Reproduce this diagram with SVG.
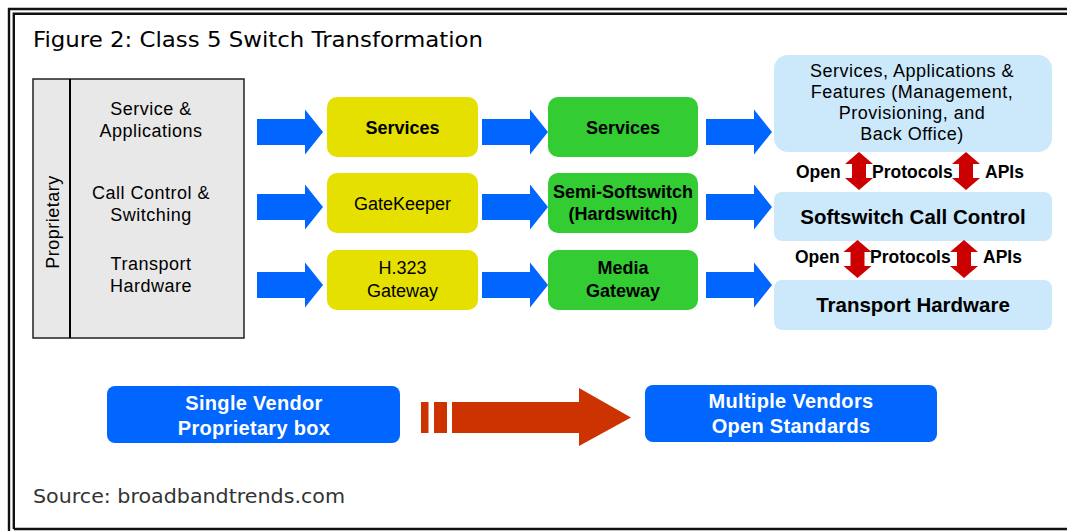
<svg xmlns="http://www.w3.org/2000/svg" width="1067" height="531" viewBox="0 0 1067 531">
  <style>
    .lbl { font-family: "Liberation Sans", Arial, sans-serif; fill: #000; text-anchor: middle; }
    .gray-lbl { font-size: 18px; letter-spacing: 0.5px; }
    .box-lbl { font-size: 18px; }
    .b { font-weight: bold; }
    .proto { font-family: "Liberation Sans", Arial, sans-serif; font-size: 17.5px; font-weight: bold; fill: #000; }
    .vendor { font-family: "Liberation Sans", Arial, sans-serif; font-size: 20px; font-weight: bold; fill: #fff; text-anchor: middle; letter-spacing: 0.3px; }
    .caption { font-family: "DejaVu Sans", "Liberation Sans", sans-serif; }
    .frame { fill: none; stroke: #111; stroke-width: 2.4; }
    .yellow { fill: #e6e000; }
    .green { fill: #33cc33; }
    .sky { fill: #cce9fb; }
    .flow { fill: #0066ff; }
    .dbl { fill: #cc0000; }
  </style>
  <defs>
    <!-- block arrow, tail at x=0, tip at x=66 -->
    <path id="blockArrow" d="M0,-13 H48 V-22.5 L66,0 L48,22.5 V13 H0 Z"/>
    <!-- two-headed vertical arrow, 28 wide, 38 tall, top tip at origin -->
    <path id="dblArrow" d="M0,0 L14,12 L7,12 L7,26 L14,26 L0,38 L-14,26 L-7,26 L-7,12 L-14,12 Z"/>
  </defs>

  <rect width="1067" height="531" fill="#fff"/>

  <!-- double frame -->
  <g id="frame">
    <path class="frame" d="M9,531 V9 H1067"/>
    <path class="frame" d="M13.8,529 V13.8 H1067"/>
    <path class="frame" d="M13.8,529 H1067" stroke-width="2.6"/>
  </g>

  <text class="caption" x="33" y="47" font-size="22" fill="#000" textLength="450" lengthAdjust="spacingAndGlyphs">Figure 2: Class 5 Switch Transformation</text>

  <!-- legacy switch block -->
  <g id="legacy-switch">
    <rect x="33" y="79" width="211" height="259" fill="#e8e8e8" stroke="#222" stroke-width="1.5"/>
    <line x1="70" y1="79" x2="70" y2="338" stroke="#000" stroke-width="2"/>
    <text class="lbl gray-lbl" transform="translate(59,222) rotate(-90)">Proprietary</text>
    <text class="lbl gray-lbl" x="151" y="115">Service &amp;</text>
    <text class="lbl gray-lbl" x="151" y="137">Applications</text>
    <text class="lbl gray-lbl" x="151" y="199">Call Control &amp;</text>
    <text class="lbl gray-lbl" x="151" y="221">Switching</text>
    <text class="lbl gray-lbl" x="151" y="270">Transport</text>
    <text class="lbl gray-lbl" x="151" y="292">Hardware</text>
  </g>

  <!-- first step: H.323 elements -->
  <g id="h323-services">
    <rect class="yellow" x="327" y="97" width="151" height="60" rx="10"/>
    <text class="lbl box-lbl b" x="402.5" y="133.5">Services</text>
  </g>
  <g id="h323-gatekeeper">
    <rect class="yellow" x="327" y="173" width="151" height="60" rx="10"/>
    <text class="lbl box-lbl" x="402.5" y="209.5">GateKeeper</text>
  </g>
  <g id="h323-gateway">
    <rect class="yellow" x="327" y="250" width="151" height="60" rx="10"/>
    <text class="lbl box-lbl" x="402.5" y="274">H.323</text>
    <text class="lbl box-lbl" x="402.5" y="297">Gateway</text>
  </g>

  <!-- second step: semi-softswitch elements -->
  <g id="semi-services">
    <rect class="green" x="548" y="97" width="150" height="60" rx="10"/>
    <text class="lbl box-lbl b" x="623" y="133.5">Services</text>
  </g>
  <g id="semi-softswitch">
    <rect class="green" x="548" y="173" width="150" height="60" rx="10"/>
    <text class="lbl box-lbl b" x="623" y="198">Semi-Softswitch</text>
    <text class="lbl box-lbl b" x="623" y="220">(Hardswitch)</text>
  </g>
  <g id="media-gateway">
    <rect class="green" x="548" y="250" width="150" height="60" rx="10"/>
    <text class="lbl box-lbl b" x="623" y="274">Media</text>
    <text class="lbl box-lbl b" x="623" y="297">Gateway</text>
  </g>

  <!-- open softswitch architecture -->
  <g id="open-services">
    <rect class="sky" x="774" y="55" width="278" height="97" rx="14"/>
    <text class="lbl gray-lbl" x="912" y="77">Services, Applications &amp;</text>
    <text class="lbl gray-lbl" x="912" y="98">Features (Management,</text>
    <text class="lbl gray-lbl" x="912" y="119">Provisioning, and</text>
    <text class="lbl gray-lbl" x="912" y="140">Back Office)</text>
  </g>
  <g id="softswitch-call-control">
    <rect class="sky" x="774" y="192" width="278" height="49" rx="8"/>
    <text class="lbl b" x="913" y="224" font-size="20.5">Softswitch Call Control</text>
  </g>
  <g id="transport-hardware">
    <rect class="sky" x="774" y="280" width="278" height="50" rx="8"/>
    <text class="lbl b" x="913" y="312" font-size="20.5">Transport Hardware</text>
  </g>

  <!-- connectors -->
  <g id="connectors">
    <use href="#blockArrow" class="flow" x="257" y="132"/>
    <use href="#blockArrow" class="flow" x="257" y="207"/>
    <use href="#blockArrow" class="flow" x="257" y="285"/>
    <use href="#blockArrow" class="flow" x="482" y="132"/>
    <use href="#blockArrow" class="flow" x="482" y="207"/>
    <use href="#blockArrow" class="flow" x="482" y="285"/>
    <use href="#blockArrow" class="flow" x="706" y="132"/>
    <use href="#blockArrow" class="flow" x="706" y="207"/>
    <use href="#blockArrow" class="flow" x="706" y="285"/>

    <use href="#dblArrow" class="dbl" x="859" y="152"/>
    <use href="#dblArrow" class="dbl" x="966" y="152"/>
    <use href="#dblArrow" class="dbl" x="857.5" y="240"/>
    <use href="#dblArrow" class="dbl" x="964" y="240"/>
    <text class="proto" x="796" y="178">Open</text>
    <text class="proto" x="872" y="178">Protocols</text>
    <text class="proto" x="985" y="178">APIs</text>
    <text class="proto" x="795" y="263">Open</text>
    <text class="proto" x="870" y="263">Protocols</text>
    <text class="proto" x="983" y="263">APIs</text>

    <!-- migration arrow -->
    <g fill="#cc3300">
      <rect x="421" y="402" width="7.5" height="31"/>
      <rect x="434" y="402" width="13" height="31"/>
      <path d="M452,402 H579 V388 L631,417.5 L579,446 V433 H452 Z"/>
    </g>
  </g>

  <g id="single-vendor">
    <rect class="flow" x="107" y="386" width="293" height="57" rx="8"/>
    <text class="vendor" x="254" y="410">Single Vendor</text>
    <text class="vendor" x="254" y="435">Proprietary box</text>
  </g>
  <g id="multiple-vendors">
    <rect class="flow" x="645" y="385" width="292" height="57" rx="8"/>
    <text class="vendor" x="791" y="408">Multiple Vendors</text>
    <text class="vendor" x="791" y="433">Open Standards</text>
  </g>

  <text class="caption" x="33" y="503" font-size="20" fill="#333" textLength="312" lengthAdjust="spacingAndGlyphs">Source: broadbandtrends.com</text>
</svg>
